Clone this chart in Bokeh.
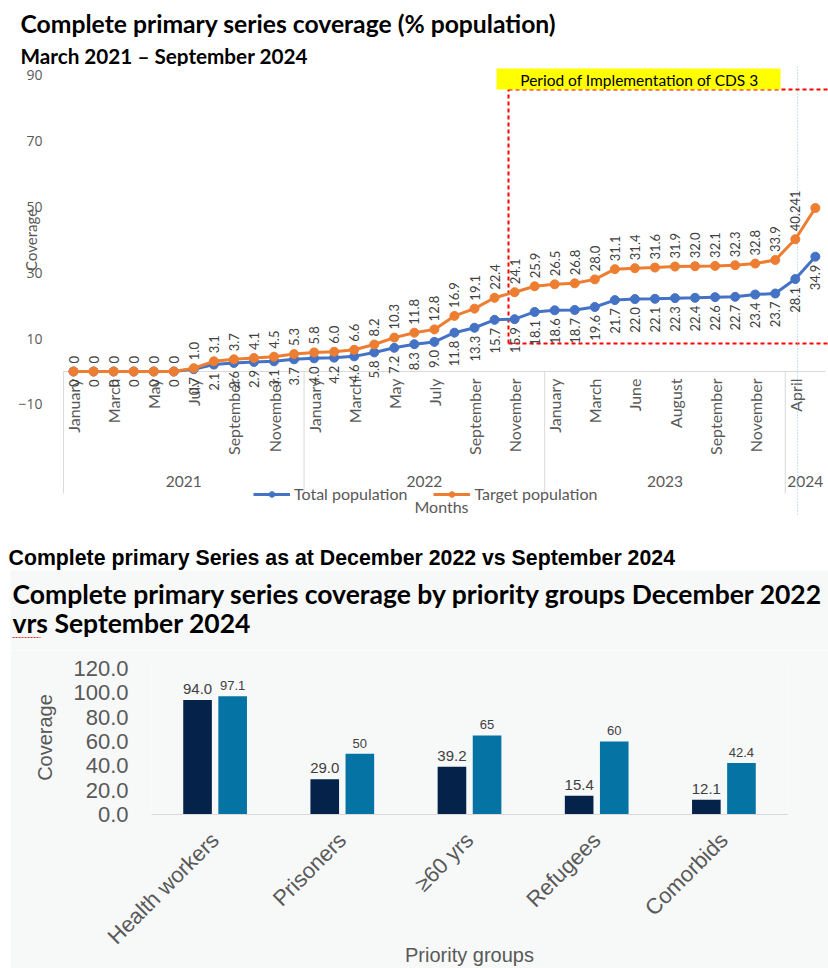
import math
from bokeh.plotting import figure
from bokeh.layouts import column
from bokeh.models import (ColumnDataSource, Range1d, FixedTicker, FactorRange, LinearAxis,
                          Legend, LegendItem, NumeralTickFormatter)
from bokeh.core.properties import value
from bokeh.embed import file_html
from bokeh.resources import INLINE
from bokeh.transform import dodge

# ---------------- data: line chart ----------------
month_labels = ["January", "", "March", "", "May", "", "July", "", "September", "", "November", "",
                "January", "", "March", "", "May", "", "July", "", "September", "", "November", "",
                "January", "", "March", "", "June", "", "August", "", "September", "", "November", "",
                "April", ""]
year_labels = ["2021", "2022", "2023", "2024"]
year_sizes = [12, 12, 12, 2]
total_population = [0, 0, 0, 0, 0, 0, 0.7, 2.1, 2.6, 2.9, 3.1, 3.7, 4.0, 4.2, 4.6, 5.8, 7.2, 8.3, 9.0,
                    11.8, 13.3, 15.7, 15.9, 18.1, 18.6, 18.7, 19.6, 21.7, 22.0, 22.1, 22.3, 22.4, 22.6,
                    22.7, 23.4, 23.7, 28.1, 34.9]
target_population = [0, 0, 0, 0, 0, 0, 1.0, 3.1, 3.7, 4.1, 4.5, 5.3, 5.8, 6.0, 6.6, 8.2, 10.3, 11.8, 12.8,
                     16.9, 19.1, 22.4, 24.1, 25.9, 26.5, 26.8, 28.0, 31.1, 31.4, 31.6, 31.9, 32.0, 32.1,
                     32.3, 32.8, 33.9, 40.2, 49.7]
# data labels as printed in the source (last two overlap as "40.241")
target_label_text = ["0" if v == 0 else f"{v:.1f}" for v in target_population[:-2]] + ["40.241", ""]
total_label_text = ["0" if v == 0 else f"{v:.1f}" for v in total_population]
line_y_ticks = [-10, 10, 30, 50, 70, 90]

# ---------------- data: bar chart ----------------
groups = ["Health workers", "Prisoners", "\u226560 yrs", "Refugees", "Comorbids"]
dec_2022 = [94.0, 29.0, 39.2, 15.4, 12.1]
sep_2024 = [97.1, 50, 65, 60, 42.4]
dec_2022_labels = ["94.0", "29.0", "39.2", "15.4", "12.1"]
sep_2024_labels = ["97.1", "50", "65", "60", "42.4"]
bar_y_ticks = [0, 20, 40, 60, 80, 100, 120]

FONT = "Lato"
GRAY = "#595959"
BLUE = "#4472c4"
ORANGE = "#ed7d31"
PANEL = "#f7f8f8"


def strip(h, bg="white"):
    f = figure(width=828, height=h, x_range=Range1d(0, 828), y_range=Range1d(h, 0),
               output_backend="svg", toolbar_location=None, min_border=0,
               x_axis_location=None, y_axis_location=None, frame_align=False)
    f.grid.visible = False
    f.outline_line_color = None
    f.background_fill_color = bg
    f.border_fill_color = bg
    return f


# ---------------- strip 1: titles ----------------
s1 = strip(66)
s1.text(x=[20], y=[23], text=["Complete primary series coverage (% population)"],
        text_font=value(FONT), text_font_style="bold", text_font_size="24.7px",
        text_baseline="middle", text_align="left", text_color="black")
s1.text(x=[20], y=[55], text=["March 2021 \u2013 September 2024"],
        text_font=value(FONT), text_font_style="bold", text_font_size="20.7px",
        text_baseline="middle", text_align="left", text_color="black")

# ---------------- line chart ----------------
X0_PX, DX_PX = 73.0, 20.05   # page px of first category and spacing
Y0_PX, DY_PX = 371.0, 3.29   # page px of value 0 and px per unit


def xd(px):
    return 1 + (px - X0_PX) / DX_PX


def yd(py):
    return (Y0_PX - py) / DY_PX


n = len(month_labels)
xs = list(range(1, n + 1))
p = figure(width=828, height=474, x_range=Range1d(xd(55), xd(828)), y_range=Range1d(yd(540), yd(66)),
           output_backend="svg", toolbar_location=None, min_border_left=55, min_border_right=0,
           min_border_top=0, min_border_bottom=0, x_axis_location=None, frame_align=False)
p.outline_line_color = None
p.grid.visible = False
p.yaxis.ticker = FixedTicker(ticks=line_y_ticks)
p.yaxis.axis_line_color = None
p.yaxis.major_tick_line_color = None
p.yaxis.minor_tick_line_color = None
p.yaxis.major_label_standoff = 7
p.yaxis.major_label_text_font = "Open Sans"
p.yaxis.major_label_text_font_size = "14px"
p.yaxis.major_label_text_color = GRAY

# "Coverage" title of the value axis, sitting beside the 50 tick as in the source
cov_axis = LinearAxis(ticker=FixedTicker(ticks=[40]), major_label_overrides={40: "Coverage"},
                      major_label_orientation="vertical", axis_line_color=None,
                      major_tick_line_color=None, minor_tick_line_color=None,
                      major_label_standoff=-31, major_label_text_font=FONT,
                      major_label_text_font_size="15px", major_label_text_color=GRAY)
p.add_layout(cov_axis, "left")

# category axis line at 0 and year separators
bounds = [0.5]
for s in year_sizes:
    bounds.append(bounds[-1] + s)
p.segment(x0=[bounds[0]], y0=[0], x1=[bounds[-1]], y1=[0], line_color="#d9d9d9", line_width=1)
p.segment(x0=bounds[:-1], y0=[0] * (len(bounds) - 1), x1=bounds[:-1], y1=[yd(493)] * (len(bounds) - 1),
          line_color="#d9d9d9", line_width=1)
year_centers = [(bounds[i] + bounds[i + 1]) / 2 for i in range(len(year_sizes))]
p.text(x=year_centers, y=[yd(481)] * len(year_centers), text=year_labels, text_align="center",
       text_baseline="middle", text_font=value(FONT), text_font_size="15.5px", text_color=GRAY)

# month labels
p.text(x=xs, y=[0] * n, text=month_labels, angle=math.pi / 2, text_align="right", text_baseline="middle",
       y_offset=7, text_font=value(FONT), text_font_size="16px", text_color=GRAY)

# red dashed CDS3 frame and yellow banner
rx0, rx1, ry0, ry1 = xd(508), xd(830), yd(343), yd(89)
p.multi_line(xs=[[rx0, rx0], [rx0, rx1], [rx0, rx1]], ys=[[ry0, ry1], [ry1, ry1], [ry0, ry0]],
             line_color="#ff0000", line_width=2, line_dash="4 3")
p.quad(left=[xd(496)], right=[xd(780)], bottom=[yd(89)], top=[yd(68)], fill_color="#ffff00", line_color=None)
p.text(x=[xd(639)], y=[yd(79)], text=["Period of Implementation of CDS 3"], text_align="center",
       text_baseline="middle", text_font=value(FONT), text_font_size="15.5px", text_color="black")

# faint dotted line
p.segment(x0=[xd(797)], y0=[yd(66)], x1=[xd(797)], y1=[yd(515)], line_color="#9dc3e6",
          line_width=1, line_dash="1 2")

src = ColumnDataSource(dict(x=xs, total=total_population, target=target_population,
                            tl=total_label_text, gl=target_label_text))
l1 = p.line("x", "total", source=src, line_color=BLUE, line_width=3)
c1 = p.scatter("x", "total", source=src, size=9, fill_color=BLUE, line_color=BLUE)
l2 = p.line("x", "target", source=src, line_color=ORANGE, line_width=3)
c2 = p.scatter("x", "target", source=src, size=9, fill_color=ORANGE, line_color=ORANGE)

p.text(x="x", y="target", text="gl", source=src, angle=math.pi / 2, text_align="left",
       text_baseline="middle", y_offset=-8, text_font=value(FONT), text_font_size="13px",
       text_color="#404040")
p.text(x="x", y="total", text="tl", source=src, angle=math.pi / 2, text_align="right",
       text_baseline="middle", y_offset=8, text_font=value(FONT), text_font_size="13px",
       text_color="#404040")

legend = Legend(items=[LegendItem(label="Total population", renderers=[l1, c1]),
                       LegendItem(label="Target population", renderers=[l2, c2])],
                orientation="horizontal", location=(198, 37), background_fill_alpha=0,
                border_line_color=None, padding=0, margin=0, glyph_width=37, glyph_height=14,
                label_standoff=4, spacing=26, label_text_font=FONT, label_text_font_size="16px",
                label_text_color=GRAY)
p.add_layout(legend, "center")

p.text(x=[xd(441)], y=[yd(506)], text=["Months"], text_align="center", text_baseline="middle",
       text_font=value(FONT), text_font_size="16px", text_color=GRAY)

# ---------------- strip 2: headings of the bar panel ----------------
s2 = strip(110)
s2.quad(left=[10], right=[828], top=[30], bottom=[110], fill_color=PANEL, line_color=None)
s2.text(x=[8], y=[17], text=["Complete primary Series as at December 2022 vs September 2024"],
        text_font=value("Liberation Sans"), text_font_style="bold", text_font_size="21.3px",
        text_baseline="middle", text_align="left", text_color="black")
s2.text(x=[12, 12], y=[53, 82],
        text=["Complete primary series coverage by priority groups December 2022", "vrs September 2024"],
        text_font=value(FONT), text_font_style="bold", text_font_size="26.5px",
        text_baseline="middle", text_align="left", text_color="black")
s2.line(x=[12, 40], y=[97, 97], line_color="#e03030", line_width=1, line_dash="2 1")

# ---------------- bar chart ----------------
bsrc = ColumnDataSource(dict(group=groups, dec=dec_2022, sep=sep_2024,
                             dl=dec_2022_labels, sl=sep_2024_labels))
b = figure(width=818, height=318, x_range=FactorRange(factors=groups, range_padding=0),
           y_range=Range1d(0, (815 - 660) / 1.225), output_backend="svg", toolbar_location=None,
           min_border_left=141, min_border_right=41, min_border_top=10, min_border_bottom=153,
           frame_align=False)
b.margin = (0, 0, 0, 10)
b.background_fill_color = PANEL
b.border_fill_color = PANEL
b.outline_line_color = None
b.grid.visible = False

b.vbar(x=dodge("group", -0.138, range=b.x_range), top="dec", width=0.225, source=bsrc,
       fill_color="#05234a", line_color=None)
b.vbar(x=dodge("group", 0.138, range=b.x_range), top="sep", width=0.225, source=bsrc,
       fill_color="#0673a5", line_color=None)
b.text(x=dodge("group", -0.138, range=b.x_range), y="dec", text="dl", source=bsrc, text_align="center",
       text_baseline="bottom", y_offset=-6, text_font=value("Liberation Sans"), text_font_size="15px",
       text_color="#404040")
b.text(x=dodge("group", 0.138, range=b.x_range), y="sep", text="sl", source=bsrc, text_align="center",
       text_baseline="bottom", y_offset=-6, text_font=value("Liberation Sans"), text_font_size="13px",
       text_color="#404040")

b.yaxis.ticker = FixedTicker(ticks=bar_y_ticks)
b.yaxis.formatter = NumeralTickFormatter(format="0.0")
b.yaxis.axis_line_color = None
b.yaxis.major_tick_line_color = None
b.yaxis.minor_tick_line_color = None
b.yaxis.major_label_standoff = 17
b.yaxis.major_label_text_font = "Liberation Sans"
b.yaxis.major_label_text_font_size = "22px"
b.yaxis.major_label_text_color = GRAY
b.yaxis.axis_label = "Coverage"
b.yaxis.axis_label_text_font = "Liberation Sans"
b.yaxis.axis_label_text_font_size = "20px"
b.yaxis.axis_label_text_font_style = "normal"
b.yaxis.axis_label_text_color = GRAY
b.yaxis.axis_label_standoff = 14

b.xaxis.axis_line_color = "#d9d9d9"
b.xaxis.major_tick_line_color = None
b.xaxis.minor_tick_line_color = None
b.xaxis.major_label_orientation = math.pi / 4
b.xaxis.major_label_standoff = 16
b.xaxis.major_label_text_font = "Liberation Sans"
b.xaxis.major_label_text_font_size = "22px"
b.xaxis.major_label_text_color = GRAY
b.xaxis.axis_label = "Priority groups"
b.xaxis.axis_label_text_font = "Liberation Sans"
b.xaxis.axis_label_text_font_size = "20px"
b.xaxis.axis_label_text_font_style = "normal"
b.xaxis.axis_label_text_color = GRAY
b.xaxis.axis_label_standoff = -17

layout = column(s1, p, s2, b, spacing=0)
open("out.html", "w").write(file_html(layout, INLINE))
